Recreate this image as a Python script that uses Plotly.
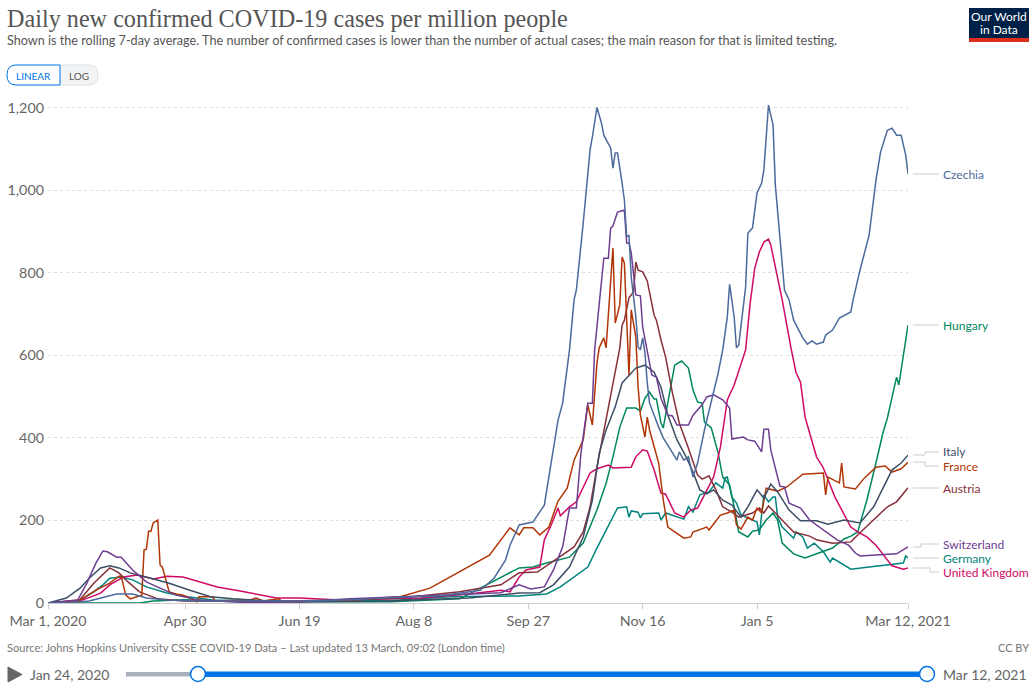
import pandas as pd
import plotly.graph_objects as go

W, H = 1035, 690
START = pd.Timestamp("2020-03-01")

czechia_days = [0,10,18,30,37,43,52,66,110,132,154,171,189,195,200,202,206,212,217,223,225,228,230,231,234,237,238,240,242,243,246,247,248,249,251,252,253,254,255,257,258,259,260,261,262,263,267,269,275,276,278,280,282,284,287,293,295,297,298,300,301,302,305,306,308,310,312,313,315,317,318,320,322,324,326,330,332,334,336,339,340,343,346,351,352,355,359,362,364,367,369,371,373,375,376]
czechia_vals = [0,1,5,22,22,12,7,5,5,8,14,17,31,60,104,140,189,196,237,443,484,613,734,758,920,1097,1129,1200,1162,1133,1102,1053,1090,1090,1017,976,887,891,790,693,620,613,642,605,533,484,426,400,346,366,346,354,305,339,419,557,613,693,772,693,618,625,765,896,908,993,1017,1049,1206,1158,1012,879,758,734,685,642,627,635,627,632,649,661,690,705,734,806,891,1024,1092,1145,1150,1133,1133,1085,1039]

hungary_days = [0,40,46,60,75,100,150,180,206,212,218,228,234,240,244,247,250,253,257,259,261,263,265,266,268,269,272,274,277,280,282,284,286,287,290,293,295,298,300,302,306,308,311,314,317,319,321,326,331,336,343,348,351,354,358,362,365,367,371,372,374,376]
hungary_vals = [0,0,5,8,4,3,3,10,85,87,97,111,145,225,290,354,426,472,472,465,496,511,494,494,436,424,516,576,586,569,516,487,484,438,424,363,305,286,233,172,160,174,177,201,218,201,145,119,109,119,133,155,162,172,249,339,411,448,547,528,596,673]

italy_days = [0,8,14,18,23,27,31,36,45,53,62,71,81,96,110,145,184,206,215,221,228,234,238,241,244,248,251,257,261,265,268,271,275,279,282,285,288,291,295,299,303,306,310,313,316,319,324,329,336,341,348,355,361,369,373,376]
italy_vals = [0,12,36,60,85,90,85,73,60,48,31,15,10,5,3,4,12,24,25,44,87,160,249,363,419,475,533,569,576,559,523,455,395,354,317,274,264,274,249,237,208,233,274,254,288,269,225,199,199,191,201,194,233,322,339,358]

france_days = [0,14,21,27,31,32,34,36,41,42,43,44,45,46,48,49,50,53,56,59,62,65,66,72,73,88,91,94,101,102,132,154,167,180,193,202,206,208,212,215,219,223,227,230,234,236,238,240,241,243,244,247,248,250,251,252,254,255,257,258,259,261,262,263,267,269,271,278,281,282,288,289,294,297,300,301,303,306,308,310,312,314,319,323,330,339,340,341,346,347,348,353,357,362,366,369,373,376]
france_vals = [0,7,31,48,65,65,19,10,19,128,130,174,174,194,201,92,87,27,22,19,12,3,15,15,5,7,12,5,10,5,7,15,36,75,116,182,165,182,182,165,184,247,278,346,395,480,431,581,618,642,618,860,678,722,838,823,552,710,644,523,455,402,450,419,339,249,184,157,160,172,184,177,213,218,225,189,179,208,201,230,218,278,271,281,312,315,262,305,291,339,281,276,303,329,332,317,325,341]

austria_days = [0,13,20,27,31,35,40,48,59,110,154,180,198,206,214,223,230,234,237,240,244,247,250,251,252,254,256,257,258,260,261,262,265,266,268,269,270,273,276,280,284,286,289,292,295,299,302,308,311,313,315,318,322,326,333,336,343,351,355,361,367,371,376]
austria_vals = [0,2,48,85,73,51,27,10,5,3,12,27,44,73,75,109,136,172,233,329,443,533,618,673,685,739,753,826,806,802,790,780,697,685,637,618,596,509,436,375,310,300,308,274,233,220,208,218,230,218,235,218,196,172,162,153,145,148,170,201,233,245,279]

switzerland_days = [0,13,17,21,24,26,30,32,37,43,49,56,66,87,110,132,163,198,206,211,217,221,225,228,231,233,236,238,239,241,243,245,246,247,249,252,253,254,255,257,259,260,262,263,264,266,268,271,273,275,280,282,286,288,291,295,298,299,304,306,309,312,313,315,316,320,322,324,329,333,339,345,350,353,355,362,371,376]
switzerland_vals = [0,7,48,97,126,124,111,111,80,51,36,19,7,1,3,10,17,25,44,34,39,80,136,230,230,363,484,484,613,717,835,835,908,913,947,952,872,872,848,746,744,668,613,581,552,547,496,455,453,431,431,455,480,499,504,492,472,397,402,395,392,366,421,421,371,283,281,242,230,201,177,153,140,121,114,116,119,136]

germany_days = [0,13,20,24,27,32,37,43,52,61,72,110,154,176,206,218,224,231,236,240,244,246,249,253,254,255,258,259,260,267,268,270,275,278,280,282,285,289,292,295,296,297,299,301,303,306,310,311,313,315,317,318,319,321,326,327,330,332,335,339,342,343,351,359,368,374,375,376]
germany_vals = [0,3,27,44,60,63,56,39,24,15,7,5,7,15,17,22,39,68,87,133,177,201,230,233,208,223,220,206,216,218,201,218,208,203,233,220,262,269,291,278,303,305,257,242,213,205,196,165,262,245,257,257,208,184,157,172,160,133,145,124,99,109,82,87,94,97,114,109]

uk_days = [0,15,23,27,33,39,46,52,59,66,74,84,93,100,110,128,163,184,198,202,206,209,215,217,220,223,224,228,231,234,237,240,245,247,255,257,260,262,265,268,270,274,278,281,284,287,291,294,297,300,305,307,309,311,313,315,316,321,324,325,327,329,331,336,339,344,351,354,358,362,369,374,376]
uk_vals = [0,7,24,44,63,68,58,65,63,51,39,29,19,12,12,7,12,22,31,27,63,80,87,153,189,230,211,233,245,281,315,325,334,327,329,354,371,368,322,266,264,218,208,225,230,262,305,378,492,528,613,727,811,850,874,881,867,734,637,613,559,535,450,354,327,257,184,172,160,140,90,82,85]

tick_days = [0, 60, 110, 160, 210, 260, 310, 376]
tick_labels = ["Mar 1, 2020", "Apr 30", "Jun 19", "Aug 8", "Sep 27", "Nov 16", "Jan 5", "Mar 12, 2021"]
y_ticks = [0, 200, 400, 600, 800, 1000, 1200]
y_labels = ["0", "200", "400", "600", "800", "1,000", "1,200"]

series = [
    ("Germany", germany_days, germany_vals, "#00847E"),
    ("Hungary", hungary_days, hungary_vals, "#00875E"),
    ("United Kingdom", uk_days, uk_vals, "#CF0A66"),
    ("Austria", austria_days, austria_vals, "#883039"),
    ("France", france_days, france_vals, "#B13507"),
    ("Italy", italy_days, italy_vals, "#3C4E66"),
    ("Switzerland", switzerland_days, switzerland_vals, "#6D3E91"),
    ("Czechia", czechia_days, czechia_vals, "#4C6A9C"),
]

# end labels: label y position and connector path, in page pixels
end_labels = {
    "Czechia": (174, [(913, 174), (939, 174)]),
    "Hungary": (325, [(913, 325), (939, 325)]),
    "Italy": (452, [(913, 455), (925, 455), (925, 452), (939, 452)]),
    "France": (466, [(913, 462), (925, 462), (925, 466), (939, 466)]),
    "Austria": (488, [(913, 488), (939, 488)]),
    "Switzerland": (544, [(913, 547), (921, 547), (921, 544), (939, 544)]),
    "Germany": (558, [(913, 558), (939, 558)]),
    "United Kingdom": (572, [(913, 568), (930, 568), (930, 572), (939, 572)]),
}


def px(x):
    return x / W


def py(y):
    return 1 - y / H


def to_dates(days):
    return START + pd.to_timedelta(days, unit="D")


def add_text(fig, x, y, text, size, color, anchor="left", family="Lato"):
    fig.add_annotation(x=px(x), y=py(y), xref="paper", yref="paper", text=text, showarrow=False,
                       xanchor=anchor, yanchor="middle", align="left", borderpad=0, borderwidth=0,
                       font=dict(family=family, size=size, color=color))


def add_box(fig, x0, y0, x1, y1, fill, line="rgba(0,0,0,0)", width=1):
    fig.add_shape(type="rect", xref="paper", yref="paper", x0=px(x0), x1=px(x1), y0=py(y0), y1=py(y1),
                  fillcolor=fill, line=dict(color=line, width=width))


def add_path(fig, d, fill, line, width=1):
    fig.add_shape(type="path", xref="paper", yref="paper", path=d, fillcolor=fill,
                  line=dict(color=line, width=width))


def p(x, y):
    return f"{px(x):.5f},{py(y):.5f}"


fig = go.Figure()
for name, days, vals, color in series:
    assert len(days) == len(vals), name
    fig.add_trace(go.Scatter(x=to_dates(days), y=vals, mode="lines", name=name,
                             line=dict(color=color, width=1.5), cliponaxis=False))

fig.update_layout(
    width=W, height=H, margin=dict(l=0, r=0, t=0, b=0), paper_bgcolor="white", plot_bgcolor="white",
    showlegend=False,
    xaxis=dict(domain=[px(48), px(908)], range=[to_dates([0])[0], to_dates([376])[0]], type="date",
               tickvals=to_dates(tick_days), ticktext=tick_labels, ticks="outside", ticklen=5,
               tickcolor="#cccccc", showgrid=False, showline=True, linecolor="#cccccc", zeroline=False,
               automargin=False, tickfont=dict(family="Lato", size=14.3, color="#666666")),
    yaxis=dict(domain=[py(603), py(97.2)], range=[0, 1225], tickvals=y_ticks, ticktext=y_labels,
               showgrid=True, gridcolor="#dddddd", griddash="3px,3px", zeroline=False, showline=False,
               automargin=False, ticks="", ticklabelstandoff=3,
               tickfont=dict(family="Lato", size=14.3, color="#666666")),
)

for name, _, _, color in series:
    label_y, pts = end_labels[name]
    add_text(fig, 943, label_y, name, 12, color)
    d = "M " + " L ".join(p(x, y) for x, y in pts)
    add_path(fig, d, "rgba(0,0,0,0)", "#cccccc")

add_text(fig, 7, 19, "Daily new confirmed COVID-19 cases per million people", 24.2, "#555555",
         family="Liberation Serif")
add_text(fig, 7, 41, "Shown is the rolling 7-day average. The number of confirmed cases is lower than the number of actual cases; the main reason for that is limited testing.",
         12.63, "#555555")

# logo
add_box(fig, 969, 8, 1029, 38, "#002147")
add_box(fig, 969, 38, 1029, 42, "#DC2E1C")
add_text(fig, 999, 16, "Our World", 12, "white", "center")
add_text(fig, 999, 30, "in Data", 12, "white", "center")

# linear / log toggle
r = 9
add_path(fig, f"M {p(60,65)} L {p(89,65)} Q {p(98,65)} {p(98,75)} Q {p(98,85)} {p(89,85)} L {p(60,85)} Z", "#f2f3f5", "#dde0e5")
add_path(fig, f"M {p(60,65)} L {p(7+r,65)} Q {p(7,65)} {p(7,75)} Q {p(7,85)} {p(7+r,85)} L {p(60,85)} Z", "white", "#0073e6")
add_text(fig, 33.5, 75.5, "LINEAR", 10, "#0073e6", "center")
add_text(fig, 79, 75.5, "LOG", 10, "#555555", "center")

# footer
add_text(fig, 7, 647, "Source: Johns Hopkins University CSSE COVID-19 Data – Last updated 13 March, 09:02 (London time)", 11.07, "#777777")
add_text(fig, 1029, 647, "CC BY", 11, "#777777", "right")

# timeline
add_path(fig, f"M {p(8,667)} L {p(22,674.5)} L {p(8,682)} Z", "#666666", "#666666")
add_text(fig, 30, 674, "Jan 24, 2020", 14, "#666666")
add_text(fig, 943, 674, "Mar 12, 2021", 14, "#666666")
add_box(fig, 126, 672, 198, 676.5, "#a8b0bd")
add_box(fig, 198, 671.5, 927, 677, "#0073e6")
for cx in [198, 927]:
    fig.add_shape(type="circle", xref="paper", yref="paper", x0=px(cx-7.5), x1=px(cx+7.5), y0=py(674+7.5), y1=py(674-7.5),
                  fillcolor="white", line=dict(color="#0073e6", width=1.5))

fig.write_html("out.html", config={"displayModeBar": False}, post_script="document.body.style.margin='0';")
